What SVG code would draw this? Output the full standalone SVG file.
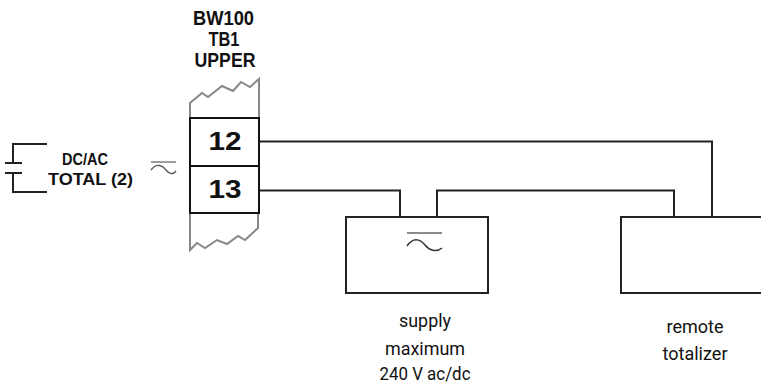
<svg xmlns="http://www.w3.org/2000/svg" width="761" height="388" viewBox="0 0 761 388">
<style>
.w{fill:none;stroke:#222;stroke-width:2}
.g{fill:none;stroke:#888;stroke-width:2;stroke-linejoin:miter}
.b{font-family:"Liberation Sans",Arial,sans-serif;font-weight:bold;fill:#111;text-anchor:middle}
.t{font-family:Roboto,"Liberation Sans",Arial,sans-serif;fill:#111;text-anchor:middle;font-size:19px}
</style>
<rect width="761" height="388" fill="#fff"/>
<g id="connectors">
<polyline class="w" points="259,141.5 712,141.5 712,217"/>
<polyline class="w" points="259,190.5 400,190.5 400,217"/>
<polyline class="w" points="437,217 437,190.5 674,190.5 674,217"/>
</g>
<g id="terminal">
<text class="b" x="223.5" y="25" font-size="20" textLength="61" lengthAdjust="spacingAndGlyphs">BW100</text>
<text class="b" x="224" y="46" font-size="20" textLength="31" lengthAdjust="spacingAndGlyphs">TB1</text>
<text class="b" x="225" y="67" font-size="20" textLength="61" lengthAdjust="spacingAndGlyphs">UPPER</text>
<polyline class="g" points="190,118 190,103 202,93 208,97 222,86 233,91 241,82 250,87 259,79 259,118"/>
<polyline class="g" points="190,213 190,250 197,243 205,248 217,240 227,244 238,236 245,240 258,228 258,213"/>
<rect x="190" y="118" width="69" height="95" fill="#fff" stroke="#111" stroke-width="2"/>
<line x1="190" y1="166" x2="259" y2="166" stroke="#111" stroke-width="2"/>
<text class="b" x="225" y="150" font-size="26" textLength="33" lengthAdjust="spacingAndGlyphs">12</text>
<text class="b" x="225" y="198" font-size="26" textLength="33" lengthAdjust="spacingAndGlyphs">13</text>
</g>
<g id="dcac">
<polyline class="w" points="47,144 13,144 13,163"/>
<line class="w" x1="5" y1="163" x2="22" y2="163"/>
<line class="w" x1="5" y1="173" x2="22" y2="173"/>
<polyline class="w" points="13,173 13,192 47,192"/>
<text class="b" x="85" y="165" font-size="17" textLength="46" lengthAdjust="spacingAndGlyphs">DC/AC</text>
<text class="b" x="90.5" y="185" font-size="17" textLength="85" lengthAdjust="spacingAndGlyphs">TOTAL (2)</text>
<line x1="151" y1="162" x2="176" y2="162" stroke="#666" stroke-width="1.3"/>
<path d="M151,170 C157,162 163,166 166,170 C169,174 173,175 176,171" fill="none" stroke="#555" stroke-width="1.3"/>
</g>
<g id="supply">
<rect class="w" x="346" y="217" width="142" height="76"/>
<line x1="407" y1="233" x2="442" y2="233" stroke="#666" stroke-width="1.5"/>
<path d="M407,246 C414,236 421,240 425,245 C429,250 436,253 442,248" fill="none" stroke="#333" stroke-width="1.5"/>
<text class="t" x="425" y="327" textLength="52" lengthAdjust="spacingAndGlyphs">supply</text>
<text class="t" x="425" y="355" textLength="80" lengthAdjust="spacingAndGlyphs">maximum</text>
<text class="t" x="425" y="380" textLength="91" lengthAdjust="spacingAndGlyphs">240 V ac/dc</text>
</g>
<g id="totalizer">
<rect class="w" x="621" y="217" width="160" height="76"/>
<text class="t" x="695" y="333" textLength="57" lengthAdjust="spacingAndGlyphs">remote</text>
<text class="t" x="695" y="360" textLength="65" lengthAdjust="spacingAndGlyphs">totalizer</text>
</g>
</svg>
